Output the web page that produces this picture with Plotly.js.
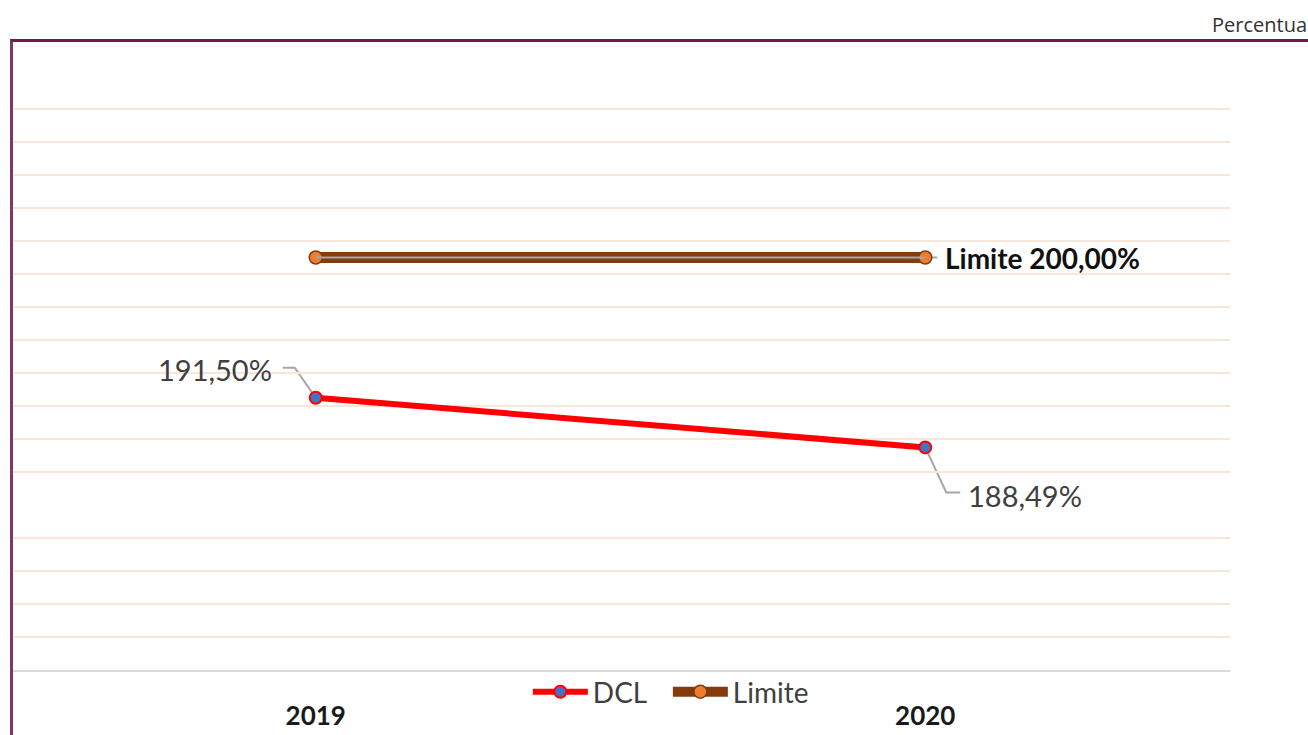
<!DOCTYPE html>
<html>
<head>
<meta charset="utf-8">
<script src="https://cdn.plot.ly/plotly-3.0.1.min.js"></script>
<style>
  html, body { margin: 0; padding: 0; width: 1308px; height: 735px; overflow: hidden; background: #fff; }
  #chart { position: absolute; left: 0; top: 0; width: 1308px; height: 735px; }
  #frame { position: absolute; left: 10px; top: 39px; width: 1400px; height: 800px;
           border-top: 3px solid #6B1B4E; border-left: 3px solid #7A3A62; pointer-events: none; }
</style>
</head>
<body>
<div id="chart"></div>
<div id="frame"></div>
<script>
const years = ['2019', '2020'];
const dcl = [191.50, 188.49];
const limite = [200.00, 200.00];
const dclLabels = ['191,50%', '188,49%'];
const limiteLabel = 'Limite 200,00%';
const seriesNames = ['DCL', 'Limite'];
const cornerText = 'Percentua';
const gridVals = [177, 179, 181, 183, 187, 189, 191, 193, 195, 197, 199, 201, 203, 205, 207, 209];

const idx = years.map((_, i) => i);

const traces = [
  {
    x: idx, y: dcl, name: seriesNames[0], type: 'scatter', mode: 'lines+markers',
    line: { color: '#FF0000', width: 6 },
    marker: { color: '#4472C4', size: 12, line: { color: '#FF0000', width: 2 } },
    hoverinfo: 'skip'
  },
  {
    x: idx, y: limite, name: seriesNames[1], type: 'scatter', mode: 'lines+markers',
    line: { color: '#843C0C', width: 11 },
    marker: { color: '#ED7D31', size: 13, line: { color: '#843C0C', width: 1.5 } },
    hoverinfo: 'skip'
  },
  {
    x: idx, y: limite, type: 'scatter', mode: 'lines', showlegend: false,
    line: { color: '#A6A6A6', width: 2 }, hoverinfo: 'skip'
  }
];

const lblFont = { family: 'Lato, sans-serif', size: 29, color: '#404040' };

const layout = {
  width: 1308, height: 735,
  margin: { l: 11, r: 78, t: 76, b: 65 },
  paper_bgcolor: '#ffffff', plot_bgcolor: '#ffffff',
  showlegend: true,
  legend: {
    orientation: 'h', x: 0.424, xanchor: 'left', y: 0.005, yanchor: 'top',
    font: { family: 'Lato, sans-serif', size: 28, color: '#404040' },
    itemwidth: 55, entrywidth: 70, tracegroupgap: 0, bgcolor: 'rgba(0,0,0,0)'
  },
  xaxis: {
    type: 'linear', range: [-0.5, 1.5], tickmode: 'array', tickvals: idx, ticktext: years,
    showgrid: false, zeroline: false,
    showline: true, linecolor: '#D9D9D9', linewidth: 2, ticks: '',
    tickfont: { family: 'Lato, sans-serif', size: 26, color: '#1a1a1a', weight: 'bold' },
    ticklabelstandoff: 22, fixedrange: true
  },
  yaxis: {
    range: [175, 211], tickmode: 'array', tickvals: gridVals, showticklabels: false,
    showgrid: true, gridcolor: '#FBE5D6', gridwidth: 2, zeroline: false, showline: false,
    ticks: '', fixedrange: true
  },
  annotations: [
    { x: idx[0], y: dcl[0], xref: 'x', yref: 'y', text: dclLabels[0], showarrow: false,
      xanchor: 'right', yanchor: 'middle', xshift: -42, yshift: 28, font: lblFont },
    { x: idx[1], y: dcl[1], xref: 'x', yref: 'y', text: dclLabels[1], showarrow: false,
      xanchor: 'left', yanchor: 'middle', xshift: 41, yshift: -48, font: lblFont },
    { x: idx[1], y: limite[1], xref: 'x', yref: 'y', text: limiteLabel, showarrow: false,
      xanchor: 'left', yanchor: 'middle', xshift: 18, yshift: 0,
      font: { family: 'Lato, sans-serif', size: 28, color: '#111111', weight: 'bold' } },
    { x: 1, y: 1, xref: 'paper', yref: 'paper', text: cornerText, showarrow: false,
      xanchor: 'right', yanchor: 'middle', xshift: 79, yshift: 52,
      font: { family: 'Open Sans, sans-serif', size: 20, color: '#333333' } }
  ],
  shapes: [
    { type: 'path', xref: 'x', yref: 'y', xsizemode: 'pixel', ysizemode: 'pixel',
      xanchor: idx[0], yanchor: dcl[0], path: 'M0,0 L-21,30 L-33,30',
      line: { color: '#A6A6A6', width: 2 }, layer: 'below' },
    { type: 'path', xref: 'x', yref: 'y', xsizemode: 'pixel', ysizemode: 'pixel',
      xanchor: idx[1], yanchor: dcl[1], path: 'M0,0 L21,-45 L35,-45',
      line: { color: '#A6A6A6', width: 2 }, layer: 'below' },
    { type: 'path', xref: 'x', yref: 'y', xsizemode: 'pixel', ysizemode: 'pixel',
      xanchor: idx[1], yanchor: limite[1], path: 'M0,0 L12,0',
      line: { color: '#A6A6A6', width: 2 }, layer: 'below' }
  ]
};

Plotly.newPlot('chart', traces, layout, { displayModeBar: false, staticPlot: true });
</script>
</body>
</html>
